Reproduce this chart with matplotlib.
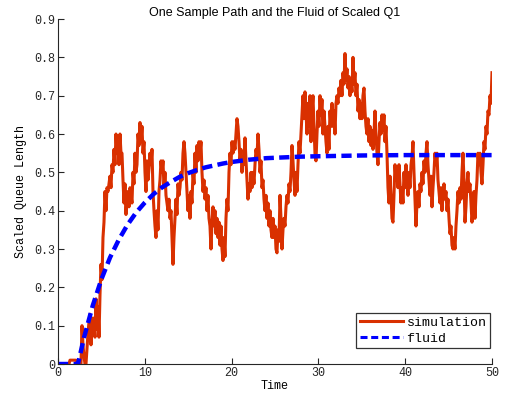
import numpy as np
import matplotlib
matplotlib.use("Agg")
import matplotlib.pyplot as plt

# simulated scaled queue length, sampled on a regular time grid from 0 to 50
sim_values = [
    0, 0, 0, 0, 0, 0, 0, 0, 0, 0, 0, 0,
    0.01, 0.01, 0.01, 0.01, 0.01, 0.01, 0.01,
    0, 0, 0, 0, 0,
    0.10, 0.05, 0.02, 0.0, 0.0, 0.04, 0.08, 0.11, 0.13, 0.05,
    0.09, 0.12, 0.10, 0.07, 0.17, 0.09, 0.15, 0.07, 0.18, 0.26,
    0.22, 0.33, 0.37, 0.45, 0.40, 0.46, 0.45, 0.47, 0.49, 0.46,
    0.52, 0.50, 0.56, 0.52, 0.60, 0.55, 0.58, 0.52, 0.60, 0.55,
    0.55, 0.48, 0.42, 0.47, 0.39, 0.44, 0.45, 0.41, 0.46, 0.44,
    0.42, 0.50, 0.47, 0.55, 0.50, 0.52, 0.60, 0.57, 0.63, 0.58,
    0.62, 0.55, 0.58, 0.50, 0.45, 0.53, 0.48, 0.51, 0.55, 0.52,
    0.56, 0.45, 0.40, 0.36, 0.33, 0.40, 0.35, 0.45, 0.48, 0.53,
    0.50, 0.53, 0.46, 0.50, 0.44, 0.42, 0.40, 0.43, 0.38, 0.40,
    0.33, 0.26, 0.33, 0.38, 0.43, 0.39, 0.47, 0.44, 0.46, 0.50,
    0.48, 0.55, 0.58, 0.55, 0.50, 0.45, 0.40, 0.44, 0.38, 0.45,
    0.42, 0.50, 0.47, 0.55, 0.50, 0.57, 0.53, 0.58, 0.55, 0.58,
    0.50, 0.45, 0.48, 0.43, 0.46, 0.40, 0.44, 0.38, 0.36, 0.30,
    0.37, 0.41, 0.36, 0.40, 0.34, 0.38, 0.33, 0.37, 0.31, 0.36,
    0.30, 0.27, 0.33, 0.28, 0.38, 0.43, 0.40, 0.50, 0.55, 0.52,
    0.58, 0.55, 0.58, 0.56, 0.60, 0.64, 0.62, 0.58, 0.53, 0.56,
    0.50, 0.54, 0.52, 0.59, 0.53, 0.48, 0.43, 0.47, 0.45, 0.50,
    0.46, 0.50, 0.47, 0.52, 0.56, 0.54, 0.60, 0.56, 0.50, 0.53,
    0.46, 0.48, 0.43, 0.40, 0.44, 0.38, 0.42, 0.36, 0.40, 0.35,
    0.33, 0.38, 0.33, 0.36, 0.30, 0.29, 0.35, 0.32, 0.44, 0.38,
    0.30, 0.35, 0.38, 0.36, 0.41, 0.44, 0.42, 0.47, 0.45, 0.50,
    0.57, 0.53, 0.48, 0.44, 0.50, 0.45, 0.52, 0.58, 0.55, 0.60,
    0.65, 0.70, 0.64, 0.71, 0.66, 0.60, 0.68, 0.62, 0.70, 0.58,
    0.66, 0.70, 0.62, 0.55, 0.53, 0.60, 0.66, 0.62, 0.70, 0.65,
    0.69, 0.60, 0.66, 0.62, 0.58, 0.55, 0.62, 0.56, 0.66, 0.62,
    0.68, 0.62, 0.66, 0.60, 0.68, 0.70, 0.68, 0.72, 0.70, 0.74,
    0.70, 0.76, 0.73, 0.81, 0.74, 0.77, 0.72, 0.75, 0.70, 0.74,
    0.71, 0.80, 0.73, 0.76, 0.70, 0.73, 0.66, 0.69, 0.64, 0.68,
    0.64, 0.70, 0.72, 0.66, 0.62, 0.60, 0.64, 0.58, 0.62, 0.57,
    0.61, 0.56, 0.60, 0.66, 0.60, 0.55, 0.52, 0.58, 0.63, 0.60,
    0.65, 0.61, 0.65, 0.58, 0.62, 0.55, 0.46, 0.42, 0.49, 0.44,
    0.38, 0.37, 0.44, 0.52, 0.48, 0.50, 0.46, 0.52, 0.47, 0.42,
    0.46, 0.42, 0.50, 0.46, 0.52, 0.48, 0.44, 0.50, 0.46, 0.52,
    0.54, 0.58, 0.50, 0.43, 0.36, 0.42, 0.45, 0.41, 0.47, 0.45,
    0.50, 0.47, 0.53, 0.50, 0.55, 0.58, 0.52, 0.48, 0.44, 0.49,
    0.41, 0.46, 0.50, 0.55, 0.52, 0.55, 0.48, 0.45, 0.42, 0.46,
    0.40, 0.44, 0.47, 0.43, 0.45, 0.40, 0.43, 0.38, 0.34, 0.36,
    0.31, 0.30, 0.33, 0.30, 0.36, 0.40, 0.45, 0.42, 0.46, 0.43,
    0.50, 0.55, 0.48, 0.37, 0.41, 0.47, 0.50, 0.45, 0.47, 0.42,
    0.37, 0.40, 0.45, 0.38, 0.44, 0.48, 0.55, 0.52, 0.55, 0.50,
    0.47, 0.52, 0.58, 0.56, 0.62, 0.60, 0.66, 0.65, 0.70, 0.68,
    0.76,
]
sim_time = np.linspace(0, 50, len(sim_values))

# fluid approximation
fluid_time = [0, 1, 2, 2.3, 3, 4, 5, 6, 7, 8, 9, 10, 11, 12, 13, 14, 15,
              16, 17, 18, 19, 20, 22, 24, 26, 28, 30, 35, 40, 45, 50]
fluid_values = [0, 0, 0, 0, 0.069, 0.152, 0.221, 0.278, 0.324, 0.363, 0.395,
                0.421, 0.443, 0.461, 0.475, 0.488, 0.498, 0.506, 0.513, 0.518,
                0.523, 0.527, 0.533, 0.537, 0.539, 0.541, 0.542, 0.544, 0.545,
                0.545, 0.545]

mono = "Liberation Mono"

fig = plt.figure(figsize=(5.06, 3.98), dpi=100)
ax = fig.add_axes([0.1146, 0.0854, 0.8577, 0.8668])

ax.plot(sim_time, sim_values, color="#d93000", lw=2.2, label="simulation")
ax.plot(fluid_time, fluid_values, color="#0000ff", lw=3.2,
        dashes=(2.3, 1.2), label="fluid")

ax.set_xlim(0, 50)
ax.set_ylim(0, 0.9)
ax.set_xticks([0, 10, 20, 30, 40, 50])
ax.set_yticks(np.arange(0, 0.95, 0.1))
ax.set_yticklabels(["0", "0.1", "0.2", "0.3", "0.4", "0.5", "0.6", "0.7", "0.8", "0.9"])
for s in ["top", "right"]:
    ax.spines[s].set_visible(False)
for s in ["left", "bottom"]:
    ax.spines[s].set_color("#262626")
    ax.spines[s].set_linewidth(0.8)
ax.tick_params(direction="in", length=4, width=0.8, colors="#262626",
               labelsize=8.5, pad=2)
for lbl in ax.get_xticklabels() + ax.get_yticklabels():
    lbl.set_family(mono)

ax.set_xlabel("Time", family=mono, fontsize=8.5, labelpad=1)
ax.set_ylabel("Scaled Queue Length", family=mono, fontsize=8.5, labelpad=5)
ax.set_title("One Sample Path and the Fluid of Scaled Q1",
             family="Liberation Sans", fontsize=9, pad=2.5)

leg = ax.legend(loc="lower right", bbox_to_anchor=(0.995, 0.046),
                prop={"family": mono, "size": 9.5}, frameon=True,
                fancybox=False, handlelength=3.3, borderpad=0.25,
                labelspacing=0.3, handletextpad=0.25, borderaxespad=0)
leg.get_frame().set_edgecolor("black")
leg.get_frame().set_linewidth(0.9)
for line in leg.get_lines():
    line.set_linewidth(2.2)

fig.savefig("out.png", dpi=100)
